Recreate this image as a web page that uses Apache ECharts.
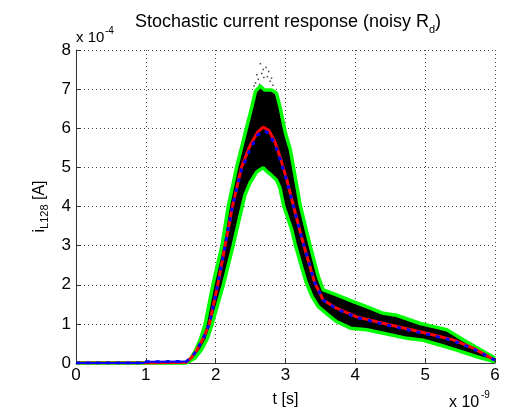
<!DOCTYPE html>
<html><head><meta charset="utf-8">
<script src="https://cdn.jsdelivr.net/npm/echarts@6/dist/echarts.min.js"></script>
<style>html,body{margin:0;padding:0;background:#fff;}#c{width:508px;height:419px;}</style>
</head><body><div id="c"></div>
<script>
// time in units of 1e-9 s, current in units of 1e-4 A
var xTicks = [0,1,2,3,4,5,6];
var yTicks = [0,1,2,3,4,5,6,7,8];

var redT = [0,1.0,1.58,1.66,1.73,1.82,1.91,2.03,2.135,2.24,2.37,2.49,2.6,2.68,2.76,2.85,2.92,3.02,3.11,3.26,3.42,3.54,3.73,4.02,4.5,5.02,5.4,5.69,6.0];
var redV = [0,0,0.02,0.15,0.33,0.62,1.0,2.0,3.0,4.0,5.0,5.55,5.9,6.03,5.95,5.65,5.28,4.68,4.04,3.02,2.04,1.61,1.40,1.18,0.97,0.76,0.59,0.38,0.07];

var blueT = [0,0.97,1.0,1.58,1.66,1.73,1.82,1.91,2.03,2.135,2.24,2.37,2.49,2.6,2.68,2.76,2.85,2.92,3.02,3.11,3.26,3.42,3.54,3.73,4.02,4.5,5.02,5.4,5.69,6.0];
var blueV = [0,0,0.03,0.04,0.15,0.33,0.62,1.0,2.0,3.0,4.0,4.95,5.45,5.82,5.94,5.88,5.58,5.22,4.65,4.02,3.02,2.04,1.61,1.38,1.16,0.95,0.74,0.57,0.36,0.07];

var upperT = [0,1.55,1.62,1.70,1.78,1.85,1.96,2.09,2.18,2.30,2.44,2.52,2.57,2.6,2.64,2.7,2.8,2.87,2.92,3.0,3.07,3.16,3.21,3.35,3.47,3.54,3.73,3.97,4.16,4.40,4.59,4.93,5.12,5.31,5.55,5.88,6.0];
var upperV = [0,0,0.05,0.28,0.6,1.0,2.0,3.0,4.0,5.0,6.0,6.56,6.95,7.0,7.08,6.98,6.98,6.9,6.56,5.87,5.45,4.55,4.04,3.02,2.21,1.87,1.74,1.57,1.44,1.27,1.22,1.01,0.93,0.85,0.59,0.25,0.13];

var lowerT = [0,1.58,1.7,1.8,1.88,1.95,2.11,2.25,2.34,2.42,2.49,2.59,2.68,2.73,2.8,2.87,2.92,2.97,3.09,3.14,3.23,3.30,3.38,3.47,3.61,3.73,3.93,4.16,4.40,4.74,4.97,5.21,5.45,5.74,6.0];
var lowerV = [0,0,0.12,0.35,0.62,1.0,2.0,3.0,3.7,4.3,4.6,4.89,4.99,4.9,4.8,4.68,4.48,4.04,3.4,3.02,2.46,2.04,1.7,1.44,1.23,1.06,0.89,0.85,0.76,0.63,0.58,0.46,0.33,0.16,0.03];

var outlierT = [2.64,2.76,2.69,2.59,2.78,2.57,2.72,2.66,2.61,2.82,2.74,2.68,2.55,2.8,2.63];
var outlierV = [7.65,7.45,7.3,7.37,7.2,7.16,7.55,7.4,7.25,7.1,7.32,7.5,7.08,7.28,7.12];

function pairs(a,b){return a.map(function(v,i){return [v,b[i]];});}
var blueAll = pairs(blueT,blueV);
var blueFlat = blueAll.slice(0,4);

var FONT = 'Liberation Sans';
var chart = echarts.init(document.getElementById('c'));
chart.setOption({
  animation:false,
  backgroundColor:'#fff',
  grid:{left:76,right:13,top:50,bottom:56,containLabel:false},
  title:{
    text:'{a|Stochastic current response (noisy R}{s|d}{a|)}',
    left:283, top:5, textAlign:'center',
    textStyle:{rich:{
      a:{fontFamily:FONT,fontSize:18,fontWeight:'normal',color:'#000',lineHeight:25},
      s:{fontFamily:FONT,fontSize:11,fontWeight:'normal',color:'#000',lineHeight:11,verticalAlign:'bottom'}
    }}
  },
  xAxis:{type:'value',min:0,max:6,interval:1,
    name:'t [s]',nameLocation:'middle',nameGap:29,
    nameTextStyle:{fontFamily:FONT,fontSize:16,color:'#000'},
    axisLine:{show:true,onZero:false,lineStyle:{color:'#333',width:1}},
    axisTick:{show:true,inside:true,length:5,lineStyle:{color:'#333'}},
    axisLabel:{fontFamily:FONT,fontSize:17,color:'#000',margin:4,
      formatter:function(v){return String(v);}},
    splitLine:{show:true,lineStyle:{color:'#444',type:[1,3],width:1}}
  },
  yAxis:{type:'value',min:0,max:8,interval:1,
    name:'{i|i}{s|L128}{a| [A]}',nameLocation:'middle',nameGap:22,nameRotate:90,
    nameTextStyle:{rich:{
      i:{fontFamily:FONT,fontSize:16,color:'#000',lineHeight:22},
      a:{fontFamily:FONT,fontSize:16,color:'#000',lineHeight:22},
      s:{fontFamily:FONT,fontSize:11,color:'#000',lineHeight:11,verticalAlign:'bottom'}
    }},
    axisLine:{show:true,onZero:false,lineStyle:{color:'#333',width:1}},
    axisTick:{show:true,inside:true,length:5,lineStyle:{color:'#333'}},
    axisLabel:{fontFamily:FONT,fontSize:17,color:'#000',margin:5,
      formatter:function(v){return String(v);}},
    splitLine:{show:true,lineStyle:{color:'#444',type:[1,3],width:1}}
  },
  graphic:[
    {type:'text',left:76,top:30,style:{text:'x 10',font:'15px "Liberation Sans"',fill:'#000'}},
    {type:'text',left:105,top:26,style:{text:'-4',font:'10px "Liberation Sans"',fill:'#000'}},
    {type:'text',left:449,top:395,style:{text:'x 10',font:'16px "Liberation Sans"',fill:'#000'}},
    {type:'text',left:481,top:390,style:{text:'-9',font:'10px "Liberation Sans"',fill:'#000'}}
  ],
  series:[
    {type:'custom',data:[[0,0]],z:1,silent:true,
      renderItem:function(params,api){
        var pts=[];
        for(var i=0;i<upperT.length;i++) pts.push(api.coord([upperT[i],upperV[i]]));
        for(var j=lowerT.length-1;j>=0;j--) pts.push(api.coord([lowerT[j],lowerV[j]]));
        return {type:'polygon',shape:{points:pts},style:{fill:'#000',stroke:'#000',lineWidth:1}};
      }},
    {type:'scatter',data:pairs(outlierT,outlierV),symbol:'rect',symbolSize:1.5,
      itemStyle:{color:'#111'},z:2,silent:true},
    {type:'line',data:pairs(upperT,upperV),showSymbol:false,symbol:'none',z:3,
      lineStyle:{color:'#00ff00',width:3.5}},
    {type:'line',data:pairs(lowerT,lowerV),showSymbol:false,symbol:'none',z:3,
      lineStyle:{color:'#00ff00',width:3.5}},
    {type:'line',data:pairs(redT,redV),showSymbol:false,symbol:'none',z:4,
      lineStyle:{color:'#ff0000',width:3}},
    {type:'line',data:blueAll,showSymbol:false,symbol:'none',z:5,
      lineStyle:{color:'#0000ff',width:3,type:[4,6]}},
    {type:'line',data:blueFlat,showSymbol:false,symbol:'none',z:6,
      lineStyle:{color:'#0000ff',width:2}}
  ]
});
</script></body></html>
